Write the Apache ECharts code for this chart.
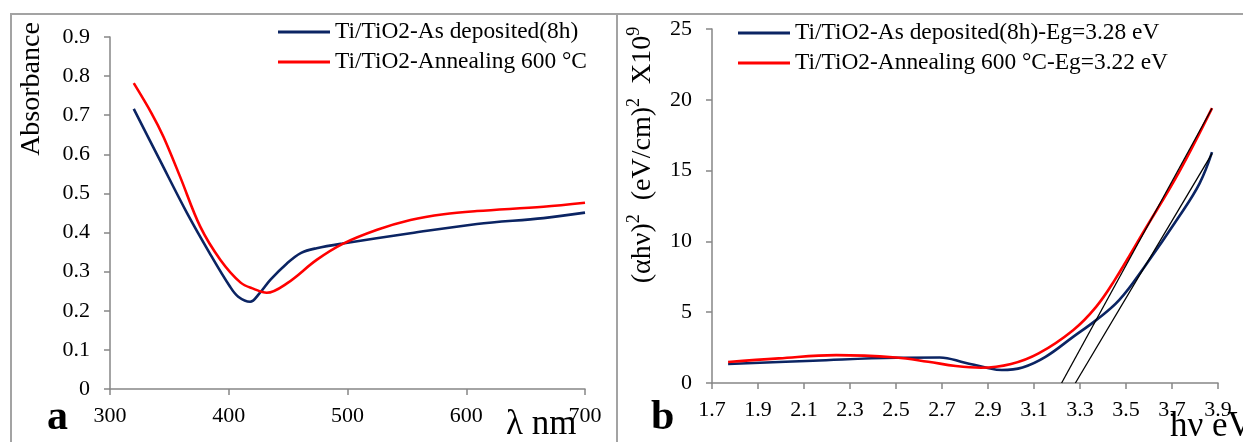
<!DOCTYPE html>
<html>
<head>
<meta charset="utf-8">
<script src="https://cdn.jsdelivr.net/npm/echarts@6/dist/echarts.min.js"></script>
<style>
  html, body { margin: 0; padding: 0; background: #fff; }
  #chart { width: 1243px; height: 442px; }
</style>
</head>
<body>
<div id="chart"></div>
<script>
// (a) UV-Vis absorbance spectra, wavelength in nm
const wlDeposited  = [320, 342, 365, 384, 401, 408, 418, 426, 435, 449, 461, 474, 496, 553, 609, 665, 700];
const absDeposited = [0.716, 0.585, 0.449, 0.347, 0.262, 0.236, 0.223, 0.245, 0.279, 0.321, 0.348, 0.360, 0.372, 0.398, 0.422, 0.437, 0.451];
const wlAnnealed   = [320, 335, 345, 359, 376, 393, 410, 421, 432, 449, 474, 496, 525, 553, 581, 609, 665, 700];
const absAnnealed  = [0.782, 0.705, 0.645, 0.543, 0.415, 0.330, 0.272, 0.256, 0.246, 0.270, 0.330, 0.371, 0.407, 0.432, 0.447, 0.455, 0.466, 0.476];

// (b) Tauc plot, photon energy in eV, (alpha*h*nu)^2 in units of 1e9
const evDeposited   = [1.77, 2.14, 2.50, 2.69, 2.80, 2.89, 2.96, 3.05, 3.15, 3.27, 3.37, 3.47, 3.58, 3.73, 3.82, 3.874];
const taucDeposited = [1.34, 1.57, 1.78, 1.80, 1.43, 1.10, 0.92, 1.10, 1.85, 3.26, 4.44, 5.85, 8.20, 11.74, 14.10, 16.30];
const evAnnealed    = [1.77, 1.99, 2.24, 2.50, 2.64, 2.76, 2.87, 3.00, 3.12, 3.27, 3.37, 3.45, 3.58, 3.73, 3.874];
const taucAnnealed  = [1.48, 1.74, 1.97, 1.80, 1.50, 1.20, 1.08, 1.34, 2.09, 3.73, 5.38, 7.25, 10.77, 14.88, 19.41];

// linear extrapolations of the absorption edge down to the energy axis
const egDeposited = 3.28;
const egAnnealed  = 3.22;
const fitDepositedEnd = [3.874, 16.2];
const fitAnnealedEnd  = [3.874, 19.4];

// series names
const nameDepositedA = 'Ti/TiO2-As deposited(8h)';
const nameAnnealedA  = 'Ti/TiO2-Annealing 600 °C';
const nameDepositedB = 'Ti/TiO2-As deposited(8h)-Eg=3.28 eV';
const nameAnnealedB  = 'Ti/TiO2-Annealing 600 °C-Eg=3.22 eV';

const FONT = 'Liberation Serif';
const GRAY = '#868686';
const NAVY = '#0b2463';
const RED = '#ff0000';

const zip = (xs, ys) => xs.map((x, i) => [x, ys[i]]);

function valueAxis(extra, margin) {
  return Object.assign({
    type: 'value',
    axisLine: { show: true, onZero: false, lineStyle: { color: GRAY, width: 1.5 } },
    axisTick: { show: true, inside: false, length: 6, lineStyle: { color: GRAY, width: 1.5 } },
    axisLabel: { color: '#000', fontFamily: FONT, fontSize: 22, margin, showMinLabel: true, showMaxLabel: true },
    splitLine: { show: false }
  }, extra);
}

function curve(name, data, color, xi, smooth) {
  return {
    name, type: 'line', data, xAxisIndex: xi, yAxisIndex: xi,
    smooth, symbol: 'none', showSymbol: false,
    lineStyle: { color, width: 2.6 }, itemStyle: { color }
  };
}

function fitLine(data) {
  return {
    type: 'line', data, xAxisIndex: 1, yAxisIndex: 1, silent: true,
    symbol: 'none', lineStyle: { color: '#000', width: 1.3 }, itemStyle: { color: '#000' }, z: 3
  };
}

const legendText = { fontFamily: FONT, fontSize: 23.4, color: '#000', lineHeight: 24 };

const chart = echarts.init(document.getElementById('chart'), null, { renderer: 'canvas' });
chart.setOption({
  animation: false,
  backgroundColor: '#fff',
  grid: [
    { left: 110, top: 37, width: 475, height: 352, containLabel: false, outerBoundsMode: 'none' },
    { left: 712, top: 29, width: 506, height: 354, containLabel: false, outerBoundsMode: 'none' }
  ],
  xAxis: [
    valueAxis({ gridIndex: 0, min: 300, max: 700, interval: 100 }, 16),
    valueAxis({ gridIndex: 1, min: 1.7, max: 3.9, interval: 0.2 }, 16)
  ],
  yAxis: [
    valueAxis({ gridIndex: 0, min: 0, max: 0.9, interval: 0.1 }, 20),
    valueAxis({ gridIndex: 1, min: 0, max: 25, interval: 5 }, 20)
  ],
  legend: [
    { orient: 'vertical', left: 273, top: 15, padding: 5, itemWidth: 52, itemHeight: 3, itemGap: 6, icon: 'rect',
      selectedMode: false, data: [nameDepositedA, nameAnnealedA], textStyle: legendText },
    { orient: 'vertical', left: 733, top: 16, padding: 5, itemWidth: 52, itemHeight: 3, itemGap: 6, icon: 'rect',
      selectedMode: false, data: [nameDepositedB, nameAnnealedB], textStyle: legendText }
  ],
  series: [
    curve(nameDepositedA, zip(wlDeposited, absDeposited), NAVY, 0, 0.35),
    curve(nameAnnealedA, zip(wlAnnealed, absAnnealed), RED, 0, 0.35),
    curve(nameDepositedB, zip(evDeposited, taucDeposited), NAVY, 1, 0.4),
    curve(nameAnnealedB, zip(evAnnealed, taucAnnealed), RED, 1, 0.4),
    fitLine([[egAnnealed, 0], fitAnnealedEnd]),
    fitLine([[egDeposited, 0], fitDepositedEnd])
  ],
  graphic: [
    { type: 'rect', shape: { x: 11, y: 14, width: 606, height: 470 }, silent: true,
      style: { fill: 'none', stroke: '#a3a3a3', lineWidth: 2 } },
    { type: 'rect', shape: { x: 617, y: 14, width: 700, height: 470 }, silent: true,
      style: { fill: 'none', stroke: '#a3a3a3', lineWidth: 2 } },
    { type: 'text', x: 32, y: 89, rotation: Math.PI / 2, silent: true,
      style: { text: 'Absorbance', font: '28px "Liberation Serif"', fill: '#000',
               align: 'center', verticalAlign: 'middle', textAlign: 'center', textVerticalAlign: 'middle' } },
    { type: 'text', x: 506, y: 425, silent: true,
      style: { text: 'λ nm', font: '35px "Liberation Serif"', fill: '#000',
               align: 'left', verticalAlign: 'middle', textAlign: 'left', textVerticalAlign: 'middle' } },
    { type: 'text', x: 1170, y: 427, silent: true,
      style: { text: 'hν eV', font: '35px "Liberation Serif"', fill: '#000',
               align: 'left', verticalAlign: 'middle', textAlign: 'left', textVerticalAlign: 'middle' } },
    { type: 'text', x: 47, y: 418, silent: true,
      style: { text: 'a', font: 'bold 42px "Liberation Serif"', fill: '#000',
               align: 'left', verticalAlign: 'middle', textAlign: 'left', textVerticalAlign: 'middle' } },
    { type: 'text', x: 651, y: 418, silent: true,
      style: { text: 'b', font: 'bold 42px "Liberation Serif"', fill: '#000',
               align: 'left', verticalAlign: 'middle', textAlign: 'left', textVerticalAlign: 'middle' } },
    { type: 'text', x: 641, y: 155, rotation: Math.PI / 2, silent: true,
      style: {
        text: '{n|(αhν)}{s|2}{n|  (eV/cm)}{s|2}{n|  X10}{s|9}',
        align: 'center', verticalAlign: 'middle', textAlign: 'center', textVerticalAlign: 'middle',
        fill: '#000',
        rich: {
          n: { fontFamily: FONT, fontSize: 28, lineHeight: 32, verticalAlign: 'bottom', fill: '#000', color: '#000' },
          s: { fontFamily: FONT, fontSize: 18, lineHeight: 32, verticalAlign: 'top', fill: '#000', color: '#000' }
        }
      } }
  ]
});
</script>
</body>
</html>
